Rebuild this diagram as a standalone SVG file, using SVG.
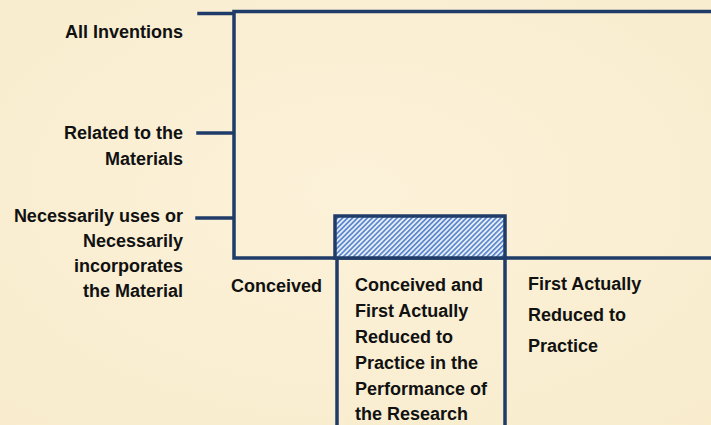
<svg xmlns="http://www.w3.org/2000/svg" width="711" height="425" viewBox="0 0 711 425">
  <defs>
    <pattern id="hatch" width="3.5" height="3.5" patternUnits="userSpaceOnUse" patternTransform="rotate(45)">
      <rect width="3.5" height="3.5" fill="#e6eef9"/>
      <rect width="1.7" height="3.5" fill="#5b86cc"/>
    </pattern>
    <radialGradient id="paper" cx="50%" cy="45%" r="75%">
      <stop offset="0" stop-color="#fcf2d9"/>
      <stop offset="1" stop-color="#f8eccd"/>
    </radialGradient>
  </defs>
  <style>
    .ln { stroke: #1f3b68; stroke-width: 3.5; fill: none; stroke-linecap: square; }
    .lbl { font-family: "Liberation Sans", Arial, sans-serif; font-weight: bold; font-size: 18px; fill: #111; }
    .r { text-anchor: end; }
  </style>
  <rect width="711" height="425" fill="url(#paper)"/>

  <g id="connectors">
    <!-- level ticks on the left axis -->
    <line class="ln" x1="199" y1="13.5" x2="233" y2="13.5"/>
    <line class="ln" x1="198" y1="133" x2="233" y2="133"/>
    <line class="ln" x1="197" y1="218" x2="233" y2="218"/>
    <!-- frame -->
    <polyline class="ln" points="711,11.5 234,11.5 234,258 711,258"/>
    <!-- column dividers below the baseline -->
    <line class="ln" x1="337" y1="258" x2="337" y2="426"/>
    <line class="ln" x1="505" y1="258" x2="505" y2="426"/>
  </g>

  <g id="node-shaded">
    <rect x="335" y="216" width="170" height="42" fill="url(#hatch)" stroke="#1f3b68" stroke-width="3.5"/>
  </g>

  <g id="node-all-inventions">
    <text class="lbl r" x="183" y="38">All Inventions</text>
  </g>
  <g id="node-related">
    <text class="lbl r" x="183" y="139">Related to the</text>
    <text class="lbl r" x="183" y="165">Materials</text>
  </g>
  <g id="node-necessarily">
    <text class="lbl r" x="183" y="222">Necessarily uses or</text>
    <text class="lbl r" x="183" y="247">Necessarily</text>
    <text class="lbl r" x="183" y="272">incorporates</text>
    <text class="lbl r" x="183" y="297">the Material</text>
  </g>
  <g id="node-conceived">
    <text class="lbl" x="231" y="292">Conceived</text>
  </g>
  <g id="node-conceived-reduced">
    <text class="lbl" x="355" y="291">Conceived and</text>
    <text class="lbl" x="355" y="317">First Actually</text>
    <text class="lbl" x="355" y="343">Reduced to</text>
    <text class="lbl" x="355" y="369">Practice in the</text>
    <text class="lbl" x="355" y="395">Performance of</text>
    <text class="lbl" x="355" y="420">the Research</text>
  </g>
  <g id="node-first-reduced">
    <text class="lbl" x="528" y="290">First Actually</text>
    <text class="lbl" x="528" y="321">Reduced to</text>
    <text class="lbl" x="528" y="352">Practice</text>
  </g>
</svg>
